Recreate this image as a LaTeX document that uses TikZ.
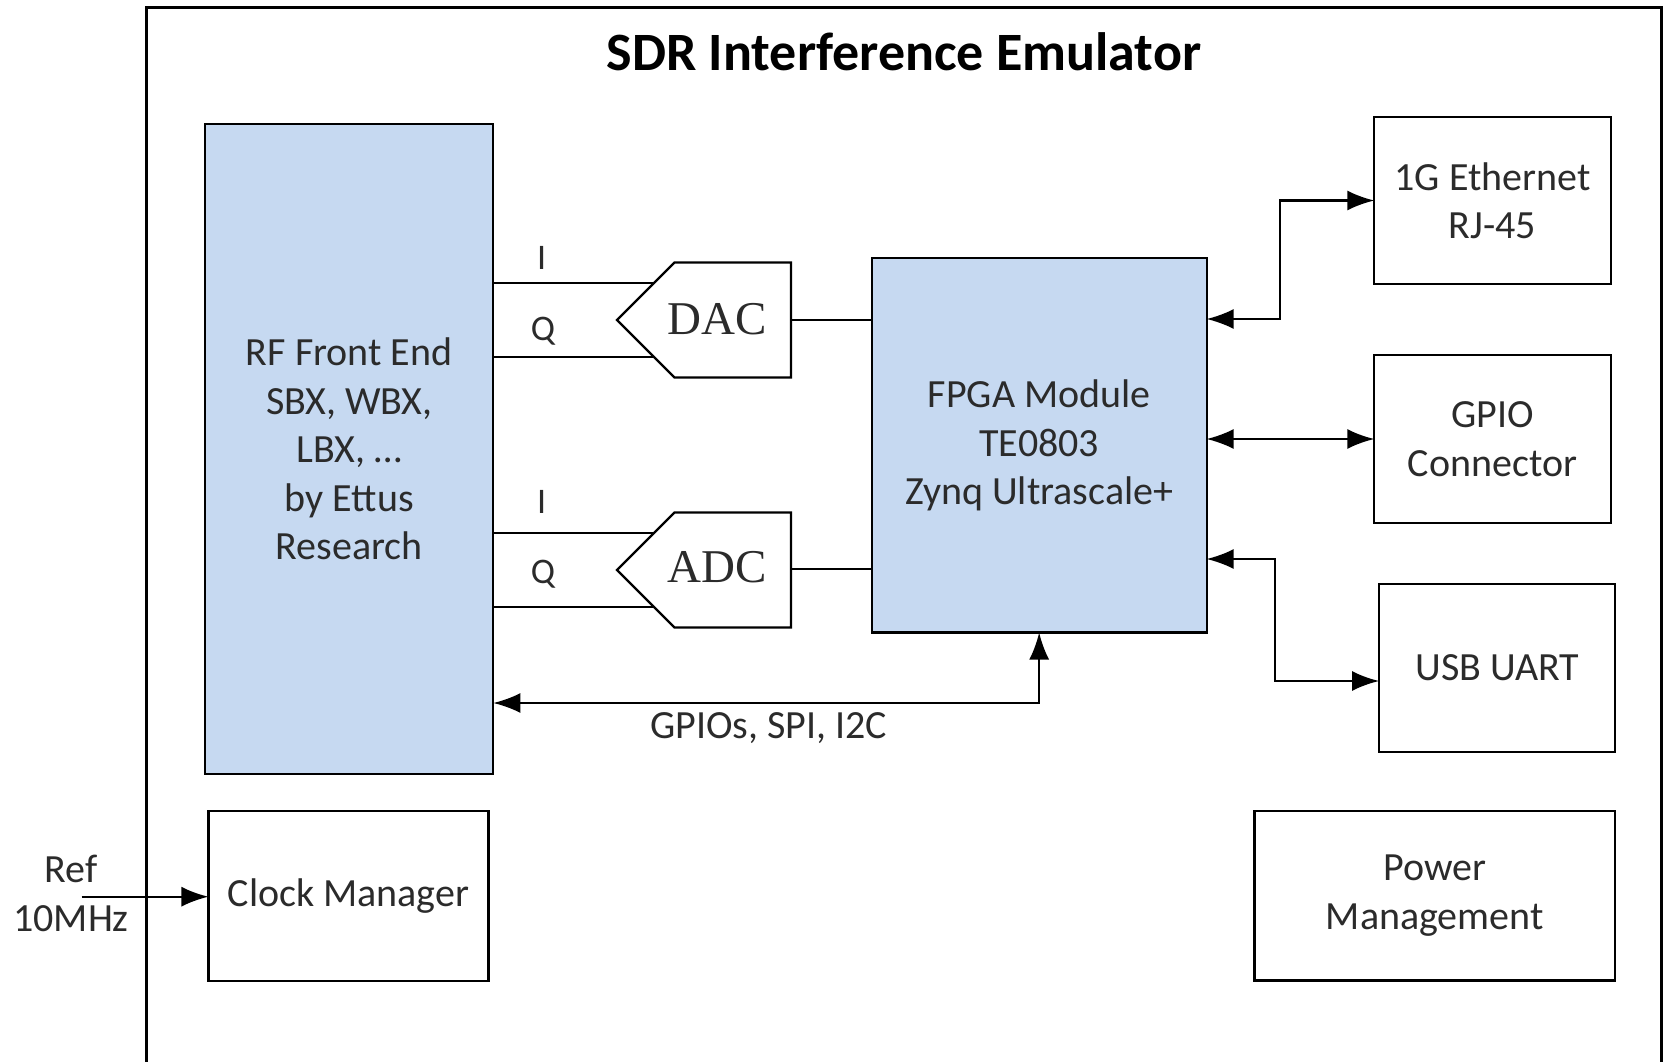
\documentclass[tikz,border=0pt]{standalone}
\usepackage{fontspec}
\setmainfont{Carlito}
\newfontfamily\dacfont{Liberation Serif}
\usetikzlibrary{arrows.meta,calc}
\definecolor{boxblue}{HTML}{C6D9F1}
\definecolor{txt}{HTML}{2B2B2B}
\begin{document}
\begin{tikzpicture}[x=1pt,y=-1pt,
  box/.style={draw, line width=2.2pt, inner sep=0pt, outer sep=0pt, align=center,
    text=txt, font=\fontsize{40}{48.5}\selectfont},
  bluebox/.style={box, fill=boxblue},
  conn/.style={line width=2.2pt},
  tipboth/.style={conn, {Latex[length=27pt,width=20pt]}-{Latex[length=27pt,width=20pt]}},
  tipone/.style={conn, -{Latex[length=27pt,width=20pt]}},
  lbl/.style={inner sep=0pt, text=txt, font=\fontsize{40}{48.5}\selectfont},
  iq/.style={inner sep=0pt, anchor=base, text=txt, font=\fontsize{36}{40}\selectfont},
  conv/.style={inner sep=0pt, anchor=base, text=txt, font=\dacfont\fontsize{47}{50}\selectfont},
  shapeline/.style={line width=2.2pt, line join=miter}
]
\useasboundingbox (0,0) rectangle (1667,1062);
% outer frame
\draw[line width=2.6pt] (146.7,1062) |- (1661.6,7.4) -- (1661.6,1062);
\node[inner sep=0pt, anchor=base, font=\fontsize{54}{60}\selectfont\bfseries] (title) at (904,71) {SDR Interference Emulator};

% main blocks
\node[bluebox, minimum width=288.1, minimum height=649.6] (rf) at (349.25,449.2)
  {RF Front End\\SBX, WBX,\\LBX, \dots\\by Ettus\\Research};
\node[bluebox, minimum width=334.9, minimum height=374.2] (fpga) at (1039.15,445.4)
  {FPGA Module\\TE0803\\Zynq Ultrascale+};
\node[box, minimum width=236.4, minimum height=167] (eth) at (1492.5,200.5) {1G Ethernet\\RJ-45};
\node[box, minimum width=236.4, minimum height=168] (gpio) at (1492.5,439) {GPIO\\Connector};
\node[box, minimum width=236.3, minimum height=168] (usb) at (1497.2,668) {USB UART};
\node[box, minimum width=280.1, minimum height=170] (clk) at (348.5,896) {Clock Manager};
\node[box, minimum width=360.5, minimum height=169.5] (pwr) at (1434.7,895.8) {Power\\Management};

% DAC and ADC shapes
\draw[shapeline] (617,320) -- (674.5,262.5) -- (791,262.5) -- (791,377.5) -- (674.5,377.5) -- cycle;
\draw[shapeline] (617,570) -- (674.5,512.5) -- (791,512.5) -- (791,627.5) -- (674.5,627.5) -- cycle;
\node[conv] (dac) at (717,334.3) {DAC};
\node[conv] (adc) at (717,582.7) {ADC};
\coordinate (dacI) at (654,283);
\coordinate (dacQ) at (654,357);
\coordinate (dacO) at (791,320);
\coordinate (adcI) at (654,533);
\coordinate (adcQ) at (654,607);
\coordinate (adcO) at (791,569);

% I/Q lines
\draw[conn] (rf.east |- dacI) -- (dacI);
\draw[conn] (rf.east |- dacQ) -- (dacQ);
\draw[conn] (rf.east |- adcI) -- (adcI);
\draw[conn] (rf.east |- adcQ) -- (adcQ);
\node[iq] (dacIl) at (541.7,269.3) {I};
\node[iq] (dacQl) at (543,340) {Q};
\node[iq] (adcIl) at (541.7,513.3) {I};
\node[iq] (adcQl) at (543,583.3) {Q};

% converter to FPGA
\draw[conn] (dacO) -- (fpga.west |- dacO);
\draw[conn] (adcO) -- (fpga.west |- adcO);

% control bus
\coordinate (busy) at (0,703);
\draw[tipboth] (rf.east |- busy) -| (fpga.south);
\node[lbl, anchor=base] (buslbl) at (768.6,738.3) {GPIOs, SPI, I2C};

% right side connections
\coordinate (ethjoin) at (1280,319);
\draw[tipboth] (fpga.east |- ethjoin) -- (ethjoin) |- (eth.west);
\draw[tipboth] (fpga.east |- gpio.west) -- (gpio.west);
\coordinate (usbjoin) at (1275,559);
\coordinate (usbin) at (0,681);
\draw[tipboth] (fpga.east |- usbjoin) -- (usbjoin) |- (usb.west |- usbin);

% reference clock
\coordinate (refin) at (81.7,896.7);
\draw[tipone] (refin) -- (clk.west |- refin);
\node[lbl, anchor=base, align=center] (reftop) at (71,882.7) {Ref};
\node[lbl, anchor=base, align=center] (refbot) at (71,931.7) {10MHz};
\end{tikzpicture}
\end{document}
